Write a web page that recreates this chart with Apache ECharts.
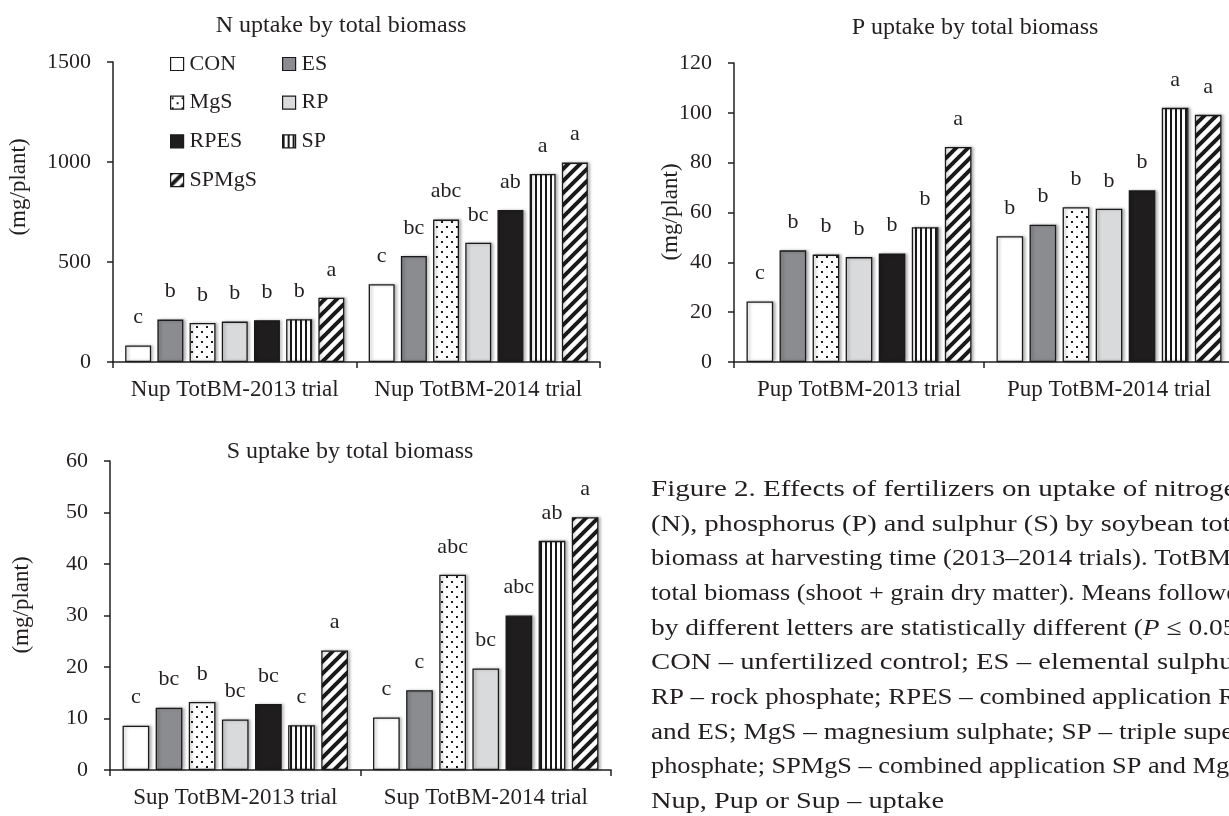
<!DOCTYPE html>
<html>
<head>
<meta charset="utf-8">
<script src="https://cdn.jsdelivr.net/npm/echarts@6/dist/echarts.min.js"></script>
<style>
html,body{margin:0;padding:0;background:#fff;}
#c{width:1229px;height:816px;}
</style>
</head>
<body>
<div id="c"></div>
<script>
// ---------- data ----------
const treatments = ['CON', 'ES', 'MgS', 'RP', 'RPES', 'SP', 'SPMgS'];

const nTitle = 'N uptake by total biomass';
const nCategories = ['Nup TotBM-2013 trial', 'Nup TotBM-2014 trial'];
const n2013 = [83, 212, 195, 202, 209, 214, 321];
const n2014 = [389, 530, 712, 596, 760, 940, 997];
const nLetters2013 = ['c', 'b', 'b', 'b', 'b', 'b', 'a'];
const nLetters2014 = ['c', 'bc', 'abc', 'bc', 'ab', 'a', 'a'];
const nAxis = [0, 1500, 500];

const pTitle = 'P uptake by total biomass';
const pCategories = ['Pup TotBM-2013 trial', 'Pup TotBM-2014 trial'];
const p2013 = [24.3, 44.8, 43.1, 42.1, 43.5, 54.1, 86.3];
const p2014 = [50.5, 55.1, 62.1, 61.5, 68.9, 102, 99.2];
const pLetters2013 = ['c', 'b', 'b', 'b', 'b', 'b', 'a'];
const pLetters2014 = ['b', 'b', 'b', 'b', 'b', 'a', 'a'];
const pAxis = [0, 120, 20];

const sTitle = 'S uptake by total biomass';
const sCategories = ['Sup TotBM-2013 trial', 'Sup TotBM-2014 trial'];
const s2013 = [8.6, 12.1, 13.2, 9.8, 12.8, 8.7, 23.2];
const s2014 = [10.2, 15.5, 37.9, 19.7, 30.0, 44.5, 49.1];
const sLetters2013 = ['c', 'bc', 'b', 'bc', 'bc', 'c', 'a'];
const sLetters2014 = ['c', 'c', 'abc', 'bc', 'abc', 'ab', 'a'];
const sAxis = [0, 60, 10];

const yName = '(mg/plant)';
const legendCol1 = ['CON', 'MgS', 'RPES', 'SPMgS'];
const legendCol2 = ['ES', 'RP', 'SP'];

const captionLines = [
  'Figure 2. Effects of fertilizers on uptake of nitrogen',
  '(N), phosphorus (P) and sulphur (S) by soybean total',
  'biomass at harvesting time (2013\u20132014 trials). TotBM \u2013',
  'total biomass (shoot + grain dry matter). Means followed',
  'by different letters are statistically different ({i|P} \u2264 0.05).',
  'CON \u2013 unfertilized control; ES \u2013 elemental sulphur;',
  'RP \u2013 rock phosphate; RPES \u2013 combined application RP',
  'and ES; MgS \u2013 magnesium sulphate; SP \u2013 triple super-',
  'phosphate; SPMgS \u2013 combined application SP and MgS;',
  'Nup, Pup or Sup \u2013 uptake'
];

// ---------- styles ----------
const FONT = '"Liberation Serif", "Times New Roman", serif';
const INK = '#231f20';

function pattern(kind) {
  const c = document.createElement('canvas');
  let ctx;
  if (kind === 'dots') {
    c.width = 10; c.height = 10; ctx = c.getContext('2d');
    ctx.fillStyle = '#fff'; ctx.fillRect(0, 0, 10, 10);
    ctx.fillStyle = '#1a1a1a'; ctx.fillRect(1, 1, 2, 2); ctx.fillRect(6, 6, 2, 2);
  } else if (kind === 'vlines') {
    c.width = 5; c.height = 5; ctx = c.getContext('2d');
    ctx.fillStyle = '#fff'; ctx.fillRect(0, 0, 5, 5);
    ctx.fillStyle = '#1a1a1a'; ctx.fillRect(0, 0, 2, 5);
  } else {
    const T = 12;
    c.width = T; c.height = T; ctx = c.getContext('2d');
    ctx.fillStyle = '#fff'; ctx.fillRect(0, 0, T, T);
    ctx.strokeStyle = '#1a1a1a'; ctx.lineWidth = 4;
    ctx.beginPath();
    ctx.moveTo(-4, T + 4); ctx.lineTo(T + 4, -4);
    ctx.moveTo(-4, 4); ctx.lineTo(4, -4);
    ctx.moveTo(T - 4, T + 4); ctx.lineTo(T + 4, T - 4);
    ctx.stroke();
  }
  return { image: c, repeat: 'repeat' };
}

const fills = ['#ffffff', '#8b8c8f', pattern('dots'), '#d9dadc', '#1f1d1e', pattern('vlines'), pattern('diag')];

function makeSeries(idx, v13, v14, l13, l14) {
  return treatments.map((t, i) => ({
    name: t,
    type: 'bar',
    xAxisIndex: idx,
    yAxisIndex: idx,
    data: [v13[i], v14[i]],
    barGap: '24%',
    barCategoryGap: '10%',
    itemStyle: {
      color: fills[i], borderColor: '#1a1a1a', borderWidth: 1.3,
      shadowColor: 'rgba(0,0,0,0.28)', shadowBlur: 3, shadowOffsetX: 2
    },
    label: {
      show: true, position: 'top', distance: 17,
      fontFamily: FONT, fontSize: 22, color: INK,
      formatter: p => (p.dataIndex === 0 ? l13 : l14)[i]
    },
    emphasis: { disabled: true }
  }));
}

function xAx(idx, cats) {
  return {
    gridIndex: idx, type: 'category', data: cats,
    axisLine: { show: true, lineStyle: { color: INK, width: 1.5 } },
    axisTick: { show: true, length: 6, alignWithLabel: false, lineStyle: { color: INK, width: 1.5 } },
    axisLabel: { interval: 0, margin: 16, fontFamily: FONT, fontSize: 23, color: INK }
  };
}
function yAx(idx, ax) {
  return {
    gridIndex: idx, type: 'value', min: ax[0], max: ax[1], interval: ax[2],
    axisLine: { show: true, lineStyle: { color: INK, width: 1.5 } },
    axisTick: { show: true, length: 6, lineStyle: { color: INK, width: 1.5 } },
    splitLine: { show: false },
    axisLabel: { margin: 22, fontFamily: FONT, fontSize: 22, color: INK, formatter: v => String(v) }
  };
}
function legendCol(data, left) {
  return {
    data: data, orient: 'vertical', left: left, top: 48,
    icon: 'rect', itemWidth: 13, itemHeight: 13, itemGap: 16.7,
    selectedMode: false,
    itemStyle: { borderColor: '#1a1a1a', borderWidth: 1.2, shadowBlur: 0, shadowOffsetX: 0 },
    textStyle: { fontFamily: FONT, fontSize: 22, lineHeight: 22, color: INK, padding: [0, 0, 0, 1] }
  };
}
function titleAt(text, x, y) {
  return {
    text: text, left: x, top: y, textAlign: 'center',
    textStyle: { fontFamily: FONT, fontSize: 24, fontWeight: 'normal', color: INK }
  };
}
function yNameText(x, y) {
  return {
    type: 'text', x: x, y: y, rotation: Math.PI / 2,
    style: { text: yName, fontFamily: FONT, fontSize: 23, fill: INK, align: 'center', verticalAlign: 'middle' }
  };
}

// caption: justified lines (each line stretched to the column width)
const CAP_SIZE = 23;
const measureCtx = document.createElement('canvas').getContext('2d');
measureCtx.font = CAP_SIZE + 'px "Liberation Serif"';
function plainWidth(line) {
  return measureCtx.measureText(line.replace(/\{i\|([^}]*)\}/g, '$1')).width;
}
const captionGraphics = captionLines.map((line, i) => {
  const w = plainWidth(line);
  const target = i < captionLines.length - 1 ? 600 : 293;
  return {
    type: 'text', x: 651, y: 490 + 34.65 * i, scaleX: target / w,
    style: {
      text: line, fontFamily: FONT, fontSize: CAP_SIZE, fill: INK, verticalAlign: 'middle',
      rich: { i: { fontFamily: FONT, fontSize: CAP_SIZE, fontStyle: 'italic', fill: INK } }
    }
  };
});

const option = {
  backgroundColor: '#fff',
  animation: false,
  title: [titleAt(nTitle, 336, 9), titleAt(pTitle, 970, 11), titleAt(sTitle, 345, 435)],
  legend: [legendCol(legendCol1, 165), legendCol(legendCol2, 277)],
  grid: [
    { left: 113, top: 62, width: 487, height: 300, containLabel: false, outerBoundsMode: 'none' },
    { left: 734, top: 63, width: 500, height: 299, containLabel: false, outerBoundsMode: 'none' },
    { left: 110, top: 461, width: 501, height: 309, containLabel: false, outerBoundsMode: 'none' }
  ],
  xAxis: [xAx(0, nCategories), xAx(1, pCategories), xAx(2, sCategories)],
  yAxis: [yAx(0, nAxis), yAx(1, pAxis), yAx(2, sAxis)],
  series: [].concat(
    makeSeries(0, n2013, n2014, nLetters2013, nLetters2014),
    makeSeries(1, p2013, p2014, pLetters2013, pLetters2014),
    makeSeries(2, s2013, s2014, sLetters2013, sLetters2014)
  ),
  graphic: [yNameText(19, 187), yNameText(671, 212), yNameText(22, 605)].concat(captionGraphics)
};

const chart = echarts.init(document.getElementById('c'), null, { renderer: 'canvas' });
chart.setOption(option);
</script>
</body>
</html>
